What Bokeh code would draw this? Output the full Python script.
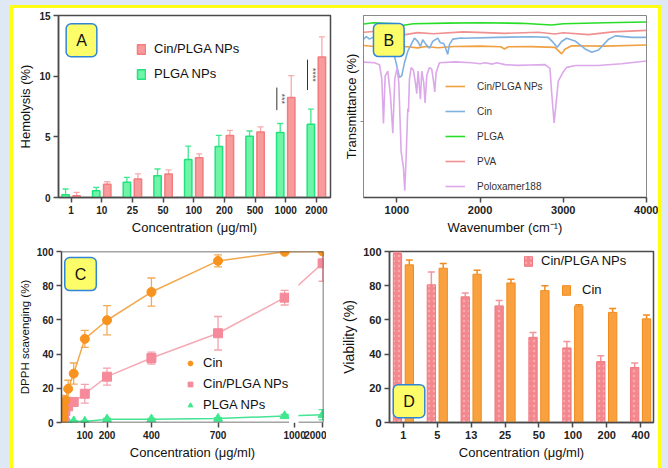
import math
from bokeh.plotting import figure
from bokeh.models import (ColumnDataSource, Whisker, TeeHead, Legend, LegendItem, Label,
                          FixedTicker, Range1d, BoxAnnotation, GlobalInlineStyleSheet)
from bokeh.layouts import row, column
from bokeh.transform import dodge
from bokeh.core.properties import value
from bokeh.embed import file_html
from bokeh.resources import INLINE

# ---------------- data ----------------
# Panel A: hemolysis
hemo_conc = ["1", "10", "25", "50", "100", "200", "500", "1000", "2000"]
hemo_plga = [0.22, 0.55, 1.25, 1.8, 3.13, 4.2, 5.04, 5.35, 6.04]
hemo_plga_err = [0.48, 0.28, 0.41, 0.55, 1.11, 0.92, 0.44, 0.75, 1.25]
hemo_cin = [0.14, 1.1, 1.52, 1.94, 3.27, 5.12, 5.4, 8.25, 11.58]
hemo_cin_err = [0.28, 0.2, 0.42, 0.33, 0.33, 0.42, 0.42, 1.8, 1.66]
sig_idx = [7, 8]
sig_lo = [7.2, 8.86]
sig_hi = [9.06, 11.36]
sig_text = ["***", "****"]

# Panel B: FTIR spectra
np_wn = [604, 732, 900, 992, 1040, 1100, 1252, 1350, 1492, 1692, 2000, 2250, 2293, 2340, 2616,
         2900, 2940, 2980, 3020, 3100, 3500, 4000]
np_t = [83.5, 83, 83.2, 82.5, 82, 83, 82.2, 83, 82.3, 83, 83.2, 82.8, 81.6, 82.8, 82.9,
        82.5, 80.7, 78.9, 81.5, 83.4, 83.2, 83.8]
cin_wn = [604, 632, 672, 712, 752, 812, 892, 952, 992, 1032, 1060, 1092, 1132, 1172, 1212, 1252,
          1284, 1312, 1352, 1392, 1432, 1492, 1524, 1564, 1592, 1612, 1632, 1672, 1772, 1808, 2212,
          2616, 2818, 2879, 2927, 2980, 3040, 3141, 3262, 3343, 3424, 3545, 3626, 3828, 4000]
cin_t = [87, 88.5, 87, 88, 86.7, 87.6, 85.8, 81.3, 74, 66, 67, 74, 80.4, 84, 87.6, 85.8,
         83, 86.7, 84, 82, 85.8, 87.6, 85, 84.6, 81.3, 78.6, 84, 87, 87.6, 87.5, 88,
         88.3, 88, 85.2, 82.5, 85.7, 87.5, 86, 81.6, 79.8, 81, 87, 88.8, 88, 88]
plga_wn = [604, 720, 1000, 1060, 1200, 1600, 2000, 2500, 2860, 3000, 3500, 4000]
plga_t = [95.3, 96, 95.5, 94.5, 95.5, 95.8, 96, 95.7, 94.8, 95.5, 96, 96.4]
pva_wn = [604, 800, 1000, 1100, 1250, 1440, 1800, 2300, 2700, 2900, 3000, 3300, 3600, 4000]
pva_t = [90.8, 91.5, 90.5, 89.5, 90.6, 90, 91, 90.2, 90.8, 89.8, 90.5, 89.5, 91, 91.8]
polox_wn = [604, 732, 792, 820, 840, 860, 892, 924, 952, 976, 1004, 1024, 1052, 1080, 1096, 1112,
            1132, 1140, 1152, 1172, 1200, 1224, 1240, 1256, 1284, 1300, 1324, 1340, 1360, 1392,
            1420, 1444, 1456, 1472, 1512, 1700, 1900, 2000, 2060, 2150, 2200, 2300, 2450, 2600,
            2780, 2840, 2860, 2890, 2910, 2940, 3000, 3040, 3150, 3420, 3700, 4000]
polox_t = [74.4, 74, 73, 65, 40.7, 66.8, 69.5, 56, 35.3, 65, 71.4, 63, 25.4, 16.4, 3.8, 21.8,
           48.8, 47, 65, 71.4, 70, 63, 57, 69.5, 54, 69.5, 63, 52, 67, 71.4,
           70.5, 63, 58, 68.6, 74, 74.5, 74, 73.5, 74, 73.3, 74, 73, 72.6, 72.8,
           73, 71, 58, 41, 50, 64, 69, 71.5, 72.5, 72.5, 73.5, 75]

# Panel C: DPPH scavenging
dpph_conc = [1, 3, 6, 12.5, 25, 50, 100, 200, 400, 700, 1000, 2000]
dpph_cin = [2, 5, 8.4, 12.8, 19.7, 28.6, 48.9, 59.8, 76.3, 94.5, 99.8, 100]
dpph_cin_err = [0.5, 1, 2, 3, 5, 6.2, 5, 8.5, 8.2, 3.5, 0.5, 0.3]
dpph_np = [1.5, 2.5, 3.3, 6.7, 9.5, 12, 16.8, 26.8, 37.7, 52.2, 73, 93.1]
dpph_np_err = [0.5, 0.8, 1, 1.5, 2, 2.5, 5.5, 5, 3.5, 9.8, 4.3, 10.5]
dpph_plga = [0.2, 0.3, 0.3, 0.4, 0.5, 0.8, 0.6, 1.9, 1.9, 2.3, 3.8, 4.5]
dpph_plga_err = [0.2, 0.2, 0.2, 0.2, 0.3, 0.3, 0.5, 0.5, 0.5, 0.5, 1.0, 3.0]
dpph_ticks = [100, 200, 400, 700, 1045, 1171]
dpph_tick_labels = ["100", "200", "400", "700", "1000", "2000"]
break_at = 1000
break_scale = 0.171
break_gap = [1020, 1062]

# Panel D: viability
via_conc = ["1", "5", "13", "25", "50", "100", "200", "400"]
via_np = [98.8, 80.5, 73.5, 68.2, 49.8, 43.6, 35.6, 32.2]
via_np_err = [0.8, 7.5, 2.3, 3.2, 2.9, 3.7, 3.4, 2.6]
via_cin = [92.2, 90.2, 86.7, 81.6, 77.1, 68.2, 64.4, 60.6]
via_cin_err = [2.8, 2.8, 2.3, 2.1, 2.8, 0.6, 2.3, 2.3]

# ---------------- style ----------------
FONT = "Liberation Sans"
AX = "#4a4a4a"
PINK, PINK_E, PINK_ERR = "#f89b9c", "#f27c7e", "#f7abab"
GREEN, GREEN_E, GREEN_ERR = "#6ef5a8", "#22e27d", "#3fe88d"
ORANGE, ORANGE_E = "#f9a03f", "#f08c1e"


def style(p, xlab, ylab, tick_size, xtitle="13px", ytitle="13px"):
    p.background_fill_color = "white"
    p.border_fill_color = "white"
    p.outline_line_color = AX
    p.outline_line_width = 1.5
    p.grid.visible = False
    p.xaxis.axis_label = xlab
    p.yaxis.axis_label = ylab
    for ax, ts in ((p.xaxis[0], xtitle), (p.yaxis[0], ytitle)):
        ax.axis_line_color = AX
        ax.axis_line_width = 1.5
        ax.major_tick_line_color = AX
        ax.major_tick_line_width = 1.5
        ax.major_tick_in = 0
        ax.major_tick_out = 5
        ax.minor_tick_line_color = None
        ax.major_label_text_font = FONT
        ax.major_label_text_font_style = "bold"
        ax.major_label_text_font_size = tick_size
        ax.major_label_text_color = "#222222"
        ax.major_label_standoff = 3
        ax.axis_label_text_font = FONT
        ax.axis_label_text_font_style = "normal"
        ax.axis_label_text_font_size = ts
        ax.axis_label_text_color = "#111111"
        ax.axis_label_standoff = 3


def tag(p, letter, x, y):
    p.add_layout(Label(x=x, y=y, text=letter, text_font=FONT, text_font_size="16px",
                       text_align="center", text_baseline="middle", text_color="#111111",
                       background_fill_color="#fdfd6a", border_line_color="#2f86d6",
                       border_line_width=1.5, border_radius=5,
                       padding=dict(left=10, right=10, top=8, bottom=8)))


def legend(items, loc, font="13px", gw=10, gh=12, spacing=10, standoff=8):
    lg = Legend(items=items, location=loc, padding=0, margin=0, border_line_color=None,
                background_fill_alpha=0, label_text_font=FONT, label_text_font_size=font,
                label_text_color="#111111", glyph_width=gw, glyph_height=gh, label_height=gh,
                spacing=spacing, label_standoff=standoff)
    return lg


common = dict(output_backend="svg", toolbar_location=None)

# ---------------- Panel A ----------------
srcA = ColumnDataSource(dict(
    idx=list(range(len(hemo_conc))), plga=hemo_plga,
    plga_top=[v + e for v, e in zip(hemo_plga, hemo_plga_err)],
    cin=hemo_cin, cin_top=[v + e for v, e in zip(hemo_cin, hemo_cin_err)]))
pA = figure(width=327, height=230, x_range=Range1d(-0.41, 8.46), y_range=Range1d(0, 15),
            min_border_left=45, min_border_right=10, min_border_top=7, min_border_bottom=41, **common)
style(pA, "Concentration (μg/ml)", "Hemolysis (%)", "10px")
pA.xaxis.ticker = FixedTicker(ticks=list(range(len(hemo_conc))))
pA.xaxis.major_label_overrides = {i: c for i, c in enumerate(hemo_conc)}
pA.yaxis.ticker = FixedTicker(ticks=[0, 5, 10, 15])
pA.add_layout(Whisker(source=srcA, base=dodge("idx", -0.18, range=pA.x_range), upper="plga_top",
                      lower="plga", line_color=GREEN_ERR, line_width=1.3, lower_head=None,
                      upper_head=TeeHead(size=6, line_color=GREEN_ERR, line_width=1.3)))
pA.add_layout(Whisker(source=srcA, base=dodge("idx", 0.18, range=pA.x_range), upper="cin_top",
                      lower="cin", line_color=PINK_ERR, line_width=1.3, lower_head=None,
                      upper_head=TeeHead(size=6, line_color=PINK_ERR, line_width=1.3)))
rA_g = pA.vbar(x=dodge("idx", -0.18, range=pA.x_range), top="plga", width=0.24, source=srcA,
               fill_color=GREEN, line_color=GREEN_E, line_width=1.5)
rA_p = pA.vbar(x=dodge("idx", 0.18, range=pA.x_range), top="cin", width=0.24, source=srcA,
               fill_color=PINK, line_color=PINK_E, line_width=1.5)
srcS = ColumnDataSource(dict(idx=sig_idx, lo=sig_lo, hi=sig_hi,
                             mid=[(a + b) / 2 for a, b in zip(sig_lo, sig_hi)], t=sig_text))
pA.segment(x0=dodge("idx", -0.29, range=pA.x_range), x1=dodge("idx", -0.29, range=pA.x_range),
           y0="lo", y1="hi", source=srcS, line_color="#333333", line_width=1)
pA.text(x=dodge("idx", -0.29, range=pA.x_range), y="mid", text="t", source=srcS, angle=-math.pi / 2,
        text_align="center", text_baseline="bottom", text_font=value(FONT), text_font_size="9px",
        text_color="#555555", x_offset=0)
lgA = legend([LegendItem(label="Cin/PLGA NPs", renderers=[rA_p]),
              LegendItem(label="PLGA NPs", renderers=[rA_g])], (78, 116), spacing=10)
pA.add_layout(lgA)
tag(pA, "A", 0.34, 12.96)

# ---------------- Panel B ----------------
pB = figure(width=318, height=230, x_range=Range1d(600, 4000), y_range=Range1d(0, 100),
            min_border_left=23, min_border_right=12, min_border_top=6, min_border_bottom=39, **common)
style(pB, "Wavenumber (cm⁻¹)", "Transmittance (%)", "11px")
pB.outline_line_color = "#888888"
pB.outline_line_width = 1
pB.yaxis.axis_line_color = "#888888"
pB.yaxis.axis_line_width = 1
pB.xaxis.ticker = FixedTicker(ticks=[1000, 2000, 3000, 4000])
pB.yaxis.ticker = FixedTicker(ticks=[42])
pB.yaxis.major_label_overrides = {42: ""}
pB.yaxis.major_tick_line_color = "#888888"
pB.yaxis.major_tick_line_width = 1
pB.yaxis.major_tick_out = 3
pB.yaxis.major_label_standoff = 0
pB.yaxis.axis_label_standoff = 2
specs = [("Cin/PLGA NPs", np_wn, np_t, "#f0a040"),
         ("Cin", cin_wn, cin_t, "#7fb0e0"),
         ("PLGA", plga_wn, plga_t, "#28dd28"),
         ("PVA", pva_wn, pva_t, "#f09090"),
         ("Poloxamer188", polox_wn, polox_t, "#dca8ea")]
itemsB = []
for name, xs, ys, col in specs:
    r = pB.line(x=xs, y=ys, line_color=col, line_width=1.6)
    itemsB.append(LegendItem(label=name, renderers=[r]))
pB.add_layout(legend(itemsB, (82, 5), font="10px", gw=20, gh=12, spacing=13, standoff=12))
pB.legend.label_text_color = "#333333"
tag(pB, "B", 904, 86.5)

# ---------------- Panel C ----------------
dpph_pos = [c if c <= break_at else break_at + (c - break_at) * break_scale for c in dpph_conc]
srcC = ColumnDataSource(dict(
    x=dpph_pos, cin=dpph_cin, np=dpph_np, plga=dpph_plga,
    cin_lo=[v - e for v, e in zip(dpph_cin, dpph_cin_err)],
    cin_hi=[v + e for v, e in zip(dpph_cin, dpph_cin_err)],
    np_lo=[v - e for v, e in zip(dpph_np, dpph_np_err)],
    np_hi=[v + e for v, e in zip(dpph_np, dpph_np_err)],
    pl_lo=[v - e for v, e in zip(dpph_plga, dpph_plga_err)],
    pl_hi=[v + e for v, e in zip(dpph_plga, dpph_plga_err)]))
pC = figure(width=313, height=230, x_range=Range1d(-5, 1175), y_range=Range1d(0, 100),
            min_border_left=48, min_border_right=3, min_border_top=9, min_border_bottom=46, **common)
style(pC, "Concentration (μg/ml)", "DPPH scavenging (%)", "10px", ytitle="11.5px")
pC.xaxis.ticker = FixedTicker(ticks=dpph_ticks)
pC.xaxis.major_label_overrides = {t: l for t, l in zip(dpph_ticks, dpph_tick_labels)}
pC.yaxis.ticker = FixedTicker(ticks=[0, 20, 40, 60, 80, 100])
for lo, hi, col in (("pl_lo", "pl_hi", "#45e493"), ("np_lo", "np_hi", "#f3a3ad"),
                    ("cin_lo", "cin_hi", "#f2ab55")):
    pC.add_layout(Whisker(source=srcC, base="x", lower=lo, upper=hi, line_color=col, line_width=1.3,
                          upper_head=TeeHead(size=8, line_color=col, line_width=1.3),
                          lower_head=TeeHead(size=8, line_color=col, line_width=1.3)))
pC.line("x", "plga", source=srcC, line_color="#45e493", line_width=1.5)
pC.line("x", "np", source=srcC, line_color="#f3aab3", line_width=1.5)
pC.line("x", "cin", source=srcC, line_color="#f2a84e", line_width=1.5)
rC_g = pC.scatter("x", "plga", source=srcC, marker="triangle", size=9, fill_color="#3ee88c",
                  line_color="#3ee88c")
rC_p = pC.scatter("x", "np", source=srcC, marker="square", size=9, fill_color="#f58a9b",
                  line_color="#f58a9b")
rC_o = pC.scatter("x", "cin", source=srcC, marker="circle", size=9, fill_color="#f7931e",
                  line_color="#f7931e")
pC.add_layout(BoxAnnotation(left=break_gap[0], right=break_gap[1], bottom=-3, top=95,
                            fill_color="white", fill_alpha=1, line_color=None))
# frame with a broken bottom axis
pC.outline_line_color = None
pC.xaxis.axis_line_color = None
x0, x1 = pC.x_range.start, pC.x_range.end
y0, y1 = pC.y_range.start, pC.y_range.end
pC.segment(x0=[x0, break_gap[1], x0, x1], x1=[break_gap[0], x1, x1, x1],
           y0=[y0, y0, y1, y0], y1=[y0, y0, y1, y1], line_color=AX, line_width=1.5)
pC.add_layout(legend([LegendItem(label="Cin", renderers=[rC_o]),
                      LegendItem(label="Cin/PLGA NPs", renderers=[rC_p]),
                      LegendItem(label="PLGA NPs", renderers=[rC_g])], (123, 10),
                     gw=12, gh=12, spacing=6, standoff=7))
tag(pC, "C", 80.7, 86.8)

# ---------------- Panel D ----------------
srcD = ColumnDataSource(dict(
    idx=list(range(len(via_conc))), np=via_np, cin=via_cin,
    np_top=[v + e for v, e in zip(via_np, via_np_err)],
    cin_top=[v + e for v, e in zip(via_cin, via_cin_err)]))
pD = figure(width=332, height=230, x_range=Range1d(-0.41, 7.38), y_range=Range1d(0, 100),
            min_border_left=63, min_border_right=5, min_border_top=13, min_border_bottom=41, **common)
style(pD, "Concentration (μg/ml)", "Viability (%)", "11px", ytitle="14px")
pD.xaxis.ticker = FixedTicker(ticks=list(range(len(via_conc))))
pD.xaxis.major_label_overrides = {i: c for i, c in enumerate(via_conc)}
pD.yaxis.ticker = FixedTicker(ticks=[0, 20, 40, 60, 80, 100])
pD.add_layout(Whisker(source=srcD, base=dodge("idx", -0.175, range=pD.x_range), upper="np_top",
                      lower="np", line_color="#f3959b", line_width=1.5, lower_head=None,
                      upper_head=TeeHead(size=7, line_color="#f3959b", line_width=1.5)))
pD.add_layout(Whisker(source=srcD, base=dodge("idx", 0.175, range=pD.x_range), upper="cin_top",
                      lower="cin", line_color=ORANGE_E, line_width=1.5, lower_head=None,
                      upper_head=TeeHead(size=7, line_color=ORANGE_E, line_width=1.5)))
rD_p = pD.vbar(x=dodge("idx", -0.175, range=pD.x_range), top="np", width=0.245, source=srcD,
               fill_color="#f4878d", line_color="#f07880", line_width=1,
               hatch_pattern="dot", hatch_color="white", hatch_alpha=0.3, hatch_scale=5,
               hatch_weight=0.7)
rD_o = pD.vbar(x=dodge("idx", 0.175, range=pD.x_range), top="cin", width=0.245, source=srcD,
               fill_color=ORANGE, line_color=ORANGE_E, line_width=1)
pD.add_layout(legend([LegendItem(label="Cin/PLGA NPs", renderers=[rD_p])], (134, 154)))
pD.add_layout(legend([LegendItem(label="Cin", renderers=[rD_o])], (172, 125), standoff=11))
tag(pD, "D", 0.166, 12.5)

# ---------------- layout ----------------
inner = column(row(pA, pB), row(pC, pD), margin=(3, 3, 0, 3),
               styles={"background-color": "white"})
root = column(inner, margin=(5, 7, 0, 10), styles={"background-color": "#ffff14"},
              stylesheets=[GlobalInlineStyleSheet(
                  css="html, body {margin:0 !important; padding:0; background-color:#dfe9f5; overflow:hidden;}")])

open("out.html", "w").write(file_html(root, INLINE))
